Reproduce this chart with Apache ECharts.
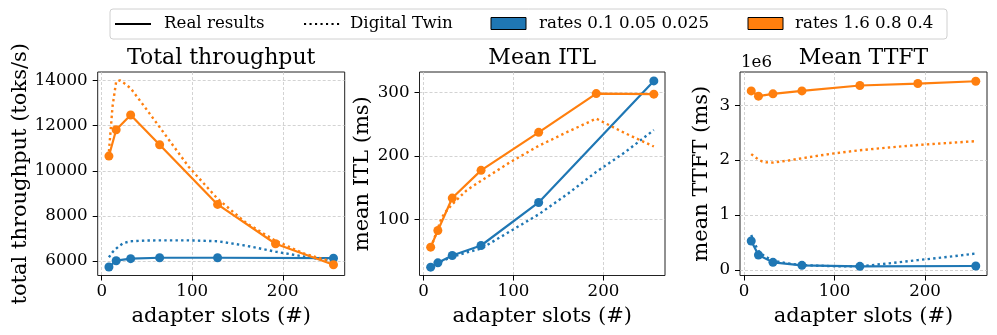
<!DOCTYPE html>
<html>
<head>
<meta charset="utf-8">
<script src="https://cdn.jsdelivr.net/npm/echarts@6/dist/echarts.min.js"></script>
<style>
  html, body { margin: 0; padding: 0; background: #fff; }
  #chart { width: 997px; height: 335px; }
</style>
</head>
<body>
<div id="chart"></div>
<script>
// x values (adapter slots) for the measured runs
const slotsBlue = [8, 16, 32, 64, 128, 256]
const slotsOrange = [8, 16, 32, 64, 128, 192, 256]
// x values for the digital twin curves
const twinSlots = [8, 12, 16, 20, 24, 32, 48, 64, 96, 128, 160, 192, 224, 256]

// total throughput (toks/s)
const tputBlueReal = [5740, 6020, 6110, 6150, 6150, 6130]
const tputOrangeReal = [10650, 11815, 12465, 11150, 8510, 6770, 5840]
const tputBlueTwin = [6170, 6400, 6550, 6690, 6800, 6880, 6910, 6920, 6920, 6880, 6680, 6420, 6200, 6000]
const tputOrangeTwin = [10850, 12850, 13950, 14000, 13900, 13650, 12800, 11930, 10180, 8760, 7680, 6900, 6330, 5960]

// mean ITL (ms)
const itlBlueReal = [24.7, 31.6, 43.2, 58.9, 126.8, 318.4]
const itlOrangeReal = [56.3, 82.6, 133.7, 177.4, 237.4, 298.4, 297.6]
const itlBlueTwin = [24.5, 28, 31, 34, 36.5, 41, 48, 54, 81, 108, 140, 175, 206, 241]
const itlOrangeTwin = [55, 70, 86, 102, 111, 124, 146, 161, 190, 216, 238, 259, 236, 215]

// mean TTFT (ms)
const ttftBlueReal = [527000, 273000, 139000, 85000, 67000, 73000]
const ttftOrangeReal = [3260000, 3164000, 3206000, 3260000, 3358000, 3394000, 3436000]
const ttftBlueTwin = [636000, 470000, 350000, 285000, 240000, 170000, 120000, 90000, 70000, 67000, 121000, 180000, 236000, 300000]
const ttftOrangeTwin = [2110000, 2060000, 2010000, 1975000, 1960000, 1955000, 1990000, 2035000, 2115000, 2180000, 2230000, 2275000, 2310000, 2345000]

// tick labels
const xTicks = [0, 100, 200]
const tputTicks = [6000, 8000, 10000, 12000, 14000]
const itlTicks = [100, 200, 300]
const ttftTicks = [0, 1000000, 2000000, 3000000]

const legendNames = ['Real results', 'Digital Twin', 'rates 0.1 0.05 0.025', 'rates 1.6 0.8 0.4']

const FONT = 'DejaVu Serif'
const BLUE = '#1f77b4'
const ORANGE = '#ff7f0e'
const DOTS = [2.4, 3.2]

const pairs = (xs, ys) => xs.map((x, i) => [x, ys[i]])

const panels = [
  {
    title: 'Total throughput', yName: 'total throughput (toks/s)',
    left: 97.7, width: 247, yMin: 5365, yMax: 14370, step: 2000, yTicks: tputTicks, nameGap: 57,
    fmt: v => String(v),
    blueReal: tputBlueReal, orangeReal: tputOrangeReal, blueTwin: tputBlueTwin, orangeTwin: tputOrangeTwin
  },
  {
    title: 'Mean ITL', yName: 'mean ITL (ms)',
    left: 419.5, width: 245.5, yMin: 11.6, yMax: 332.5, step: 100, yTicks: itlTicks, nameGap: 46,
    fmt: v => String(v),
    blueReal: itlBlueReal, orangeReal: itlOrangeReal, blueTwin: itlBlueTwin, orangeTwin: itlOrangeTwin
  },
  {
    title: 'Mean TTFT', yName: 'mean TTFT (ms)',
    left: 740, width: 247, yMin: -100000, yMax: 3604000, step: 1000000, yTicks: ttftTicks, nameGap: 28,
    fmt: v => String(Math.round(v / 1e6)),
    blueReal: ttftBlueReal, orangeReal: ttftOrangeReal, blueTwin: ttftBlueTwin, orangeTwin: ttftOrangeTwin
  }
]

const TOP = 72
const HEIGHT = 203.5

const tickFont = { fontFamily: FONT, fontSize: 16.67, color: '#000' }
const nameFont = { fontFamily: FONT, fontSize: 21, color: '#000' }
const gridLine = { show: true, lineStyle: { color: '#c8c8c8', width: 0.8, type: [3, 2] } }
const tick = (vals) => ({ show: true, inside: false, length: 5, customValues: vals, lineStyle: { color: '#000', width: 1 } })

const grid = panels.map(p => ({
  left: p.left, top: TOP, width: p.width, height: HEIGHT,
  show: true, borderColor: '#222', borderWidth: 1, backgroundColor: 'transparent'
}))

const xAxis = panels.map((p, i) => ({
  type: 'value', gridIndex: i,
  min: -4.4, max: 268.4, minInterval: 100, maxInterval: 100,
  name: 'adapter slots (#)', nameLocation: 'middle', nameGap: 31, nameTextStyle: nameFont,
  axisLine: { show: false, onZero: false },
  axisTick: tick(xTicks),
  axisLabel: { customValues: xTicks, margin: 8, formatter: v => String(v), ...tickFont },
  splitLine: gridLine
}))

const yAxis = panels.map((p, i) => ({
  type: 'value', gridIndex: i,
  min: p.yMin, max: p.yMax, minInterval: p.step, maxInterval: p.step,
  name: p.yName, nameLocation: 'middle', nameRotate: 90, nameGap: p.nameGap, nameTextStyle: nameFont,
  axisLine: { show: false, onZero: false },
  axisTick: tick(p.yTicks),
  axisLabel: { customValues: p.yTicks, margin: 10, formatter: p.fmt, ...tickFont },
  splitLine: gridLine
}))

const realLine = (name, color, data, i) => ({
  name, type: 'line', xAxisIndex: i, yAxisIndex: i, data,
  symbol: 'circle', symbolSize: 9, showSymbol: true,
  lineStyle: { color, width: 2.2 }, itemStyle: { color },
  animation: false, silent: true
})
const twinLine = (name, color, data, i) => ({
  name, type: 'line', xAxisIndex: i, yAxisIndex: i, data,
  symbol: 'none', lineStyle: { color, width: 2.4, type: DOTS, cap: 'butt' },
  animation: false, silent: true
})

const series = []
panels.forEach((p, i) => {
  series.push(realLine(legendNames[2], BLUE, pairs(slotsBlue, p.blueReal), i))
  series.push(twinLine(legendNames[2] + ' twin', BLUE, pairs(twinSlots, p.blueTwin), i))
  series.push(realLine(legendNames[3], ORANGE, pairs(slotsOrange, p.orangeReal), i))
  series.push(twinLine(legendNames[3] + ' twin', ORANGE, pairs(twinSlots, p.orangeTwin), i))
})

const title = panels.map(p => ({
  text: p.title, left: p.left + p.width / 2, top: 58, padding: 0,
  textAlign: 'center', textVerticalAlign: 'middle',
  textStyle: { fontFamily: FONT, fontSize: 22, fontWeight: 'normal', color: '#000' }
}))

// legend drawn as graphic elements
const legendY = 24
const legendFont = '16.67px "DejaVu Serif"'
const legendText = (text, x) => ({ type: 'text', style: { text, x, y: legendY, font: legendFont, fill: '#000', verticalAlign: 'middle' } })
const graphic = [
  { type: 'rect', shape: { x: 110, y: 9, width: 837, height: 30, r: 3 }, style: { fill: '#fff', stroke: '#d0d0d0', lineWidth: 1 } },
  { type: 'line', shape: { x1: 115, y1: legendY, x2: 151, y2: legendY }, style: { stroke: '#000', lineWidth: 2.1 } },
  legendText(legendNames[0], 164),
  { type: 'line', shape: { x1: 304, y1: legendY, x2: 340, y2: legendY }, style: { stroke: '#000', lineWidth: 2.1, lineDash: [2.1, 3.4] } },
  legendText(legendNames[1], 350),
  { type: 'rect', shape: { x: 491, y: 17.5, width: 35, height: 12 }, style: { fill: BLUE, stroke: '#000', lineWidth: 1 } },
  legendText(legendNames[2], 539),
  { type: 'rect', shape: { x: 748, y: 17.5, width: 35, height: 12 }, style: { fill: ORANGE, stroke: '#000', lineWidth: 1 } },
  legendText(legendNames[3], 795),
  { type: 'text', style: { text: '1e6', x: 741, y: 63, font: legendFont, fill: '#000', verticalAlign: 'middle' } }
]

const chart = echarts.init(document.getElementById('chart'), null, { renderer: 'canvas' })
chart.setOption({
  backgroundColor: '#fff',
  animation: false,
  title, grid, xAxis, yAxis, series, graphic
})
</script>
</body>
</html>
